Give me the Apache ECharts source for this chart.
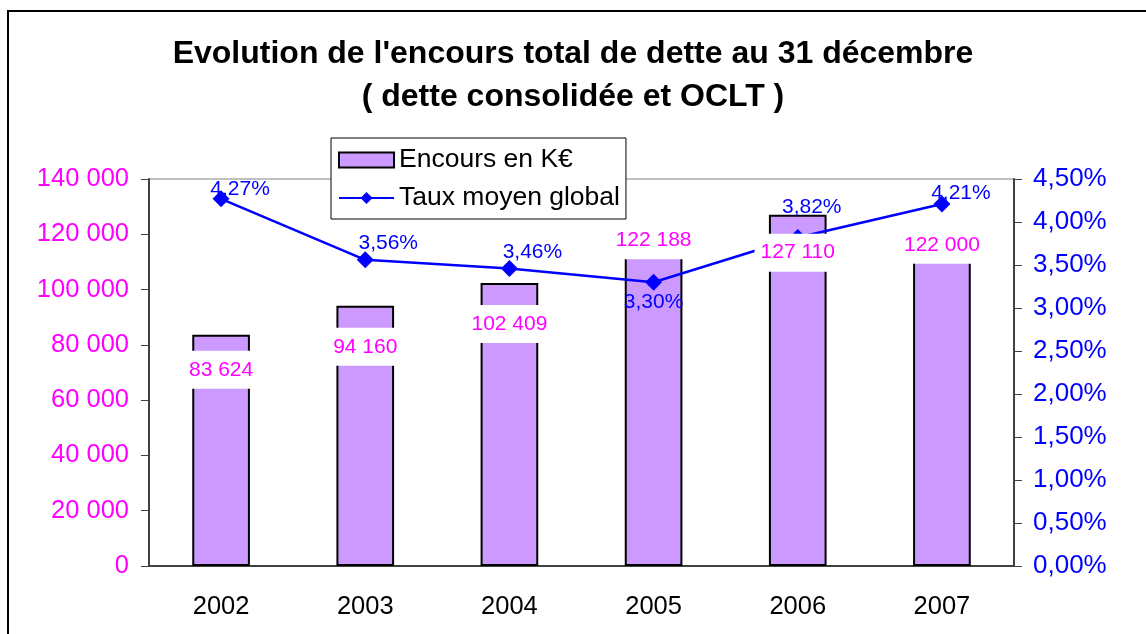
<!DOCTYPE html>
<html>
<head>
<meta charset="utf-8">
<script src="https://cdn.jsdelivr.net/npm/echarts@6/dist/echarts.min.js"></script>
<style>
  html, body { margin: 0; padding: 0; background: #fff; }
  #chart { width: 1146px; height: 634px; }
</style>
</head>
<body>
<div id="chart"></div>
<script>
// données
const years = ['2002', '2003', '2004', '2005', '2006', '2007']
const encours = [83624, 94160, 102409, 122188, 127110, 122000]
const tauxMoyen = [4.27, 3.56, 3.46, 3.30, 3.82, 4.21]

// décalage des étiquettes (déplacées à la main dans l'original)
const barLabelShift = [16, 22, 22, -7, 19, -3]
const rateLabelShift = [[19, -10], [23, -17], [23, -16], [0, 20], [14, -30], [19, -11]]

const FONT = "'Liberation Sans', Arial, sans-serif"

function fmtThousands(v) {
  return String(v).replace(/\B(?=(\d{3})+(?!\d))/g, ' ')
}
function fmtPct(v) {
  return v.toFixed(2).replace('.', ',') + '%'
}

const chart = echarts.init(document.getElementById('chart'))

const option = {
  animation: false,
  backgroundColor: '#fff',
  textStyle: { fontFamily: FONT },
  graphic: [
    {
      type: 'rect',
      shape: { x: 8, y: 11, width: 1200, height: 700 },
      style: { fill: 'none', stroke: '#000', lineWidth: 2 },
      silent: true,
    },
  ],
  title: {
    text: "Evolution de l'encours total de dette au 31 décembre\n( dette consolidée et OCLT )",
    left: 'center',
    top: 28,
    textStyle: {
      fontFamily: FONT,
      fontSize: 32,
      fontWeight: 'bold',
      color: '#000',
      lineHeight: 43,
    },
  },
  legend: {
    data: [
      { name: 'Encours en K€', icon: 'rect' },
      { name: 'Taux moyen global' },
    ],
    orient: 'vertical',
    left: 331,
    top: 138,
    padding: [7, 6, 6, 7],
    itemGap: 8,
    itemWidth: 55,
    itemHeight: 15,
    backgroundColor: '#fff',
    borderColor: '#000',
    borderWidth: 1,
    textStyle: { fontFamily: FONT, fontSize: 26.5, color: '#000', lineHeight: 30 },
  },
  grid: {
    left: 149,
    right: 132,
    top: 179,
    bottom: 68,
    show: true,
    borderColor: '#808080',
    borderWidth: 1,
  },
  xAxis: {
    type: 'category',
    data: years,
    boundaryGap: true,
    axisLine: { lineStyle: { color: '#404040', width: 2 } },
    axisTick: { lineStyle: { color: '#404040' }, length: 8 },
    axisLabel: { color: '#000', fontSize: 25.5, margin: 28, fontFamily: FONT },
  },
  yAxis: [
    {
      type: 'value',
      min: 0,
      max: 140000,
      interval: 20000,
      axisLine: { show: true, lineStyle: { color: '#404040', width: 2 } },
      axisTick: { show: true, lineStyle: { color: '#404040' }, length: 8 },
      splitLine: { show: false },
      axisLabel: {
        color: '#FF00FF',
        fontSize: 25.5,
        margin: 20,
        fontFamily: FONT,
        formatter: fmtThousands,
      },
    },
    {
      type: 'value',
      min: 0,
      max: 4.5,
      interval: 0.5,
      axisLine: { show: true, lineStyle: { color: '#404040', width: 2 } },
      axisTick: { show: true, lineStyle: { color: '#404040' }, length: 8 },
      splitLine: { show: false },
      axisLabel: {
        color: '#0000FF',
        fontSize: 26,
        margin: 19,
        fontFamily: FONT,
        formatter: fmtPct,
      },
    },
  ],
  series: [
    {
      name: 'Encours en K€',
      type: 'bar',
      data: encours,
      barWidth: '40%',
      z: 2,
      itemStyle: { color: '#CC99FF', borderColor: '#000', borderWidth: 2 },
    },
    {
      name: 'Taux moyen global',
      type: 'line',
      yAxisIndex: 1,
      data: tauxMoyen.map((v, i) => ({
        value: v,
        label: { offset: rateLabelShift[i] },
      })),
      z: 3,
      symbol: 'diamond',
      symbolSize: 17,
      lineStyle: { color: '#0000FF', width: 2.5 },
      itemStyle: { color: '#0000FF' },
      label: {
        show: true,
        position: 'inside',
        color: '#0000FF',
        fontSize: 21,
        fontFamily: FONT,
        formatter: (p) => fmtPct(p.value),
      },
    },
    {
      // étiquettes des barres, au-dessus de la courbe
      name: 'etiquettes',
      type: 'bar',
      data: encours.map((v, i) => ({
        value: v,
        label: { offset: [0, barLabelShift[i]] },
      })),
      barWidth: '40%',
      barGap: '-100%',
      z: 4,
      silent: true,
      itemStyle: { color: 'rgba(0,0,0,0)', borderWidth: 0 },
      label: {
        show: true,
        position: 'insideTop',
        distance: 0,
        color: '#FF00FF',
        fontSize: 21,
        lineHeight: 24,
        fontFamily: FONT,
        backgroundColor: '#fff',
        padding: [7, 6],
        formatter: (p) => fmtThousands(p.value),
      },
    },
  ],
}

chart.setOption(option)
window.addEventListener('resize', () => chart.resize())
</script>
</body>
</html>
